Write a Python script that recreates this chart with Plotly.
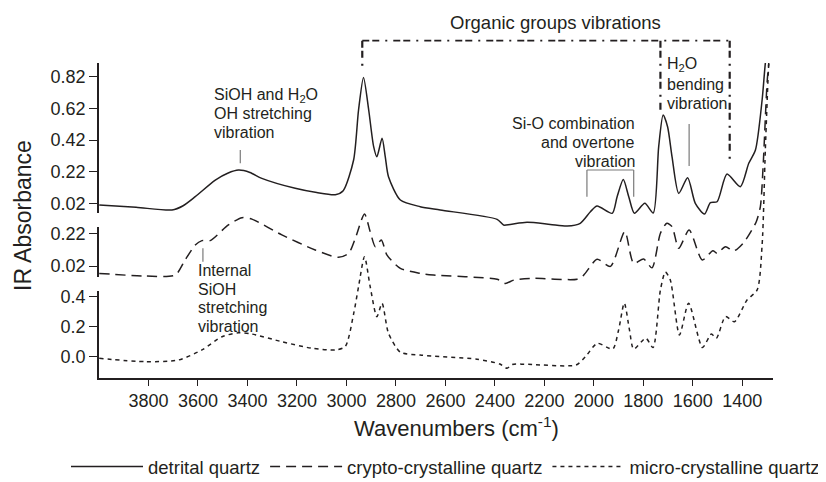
import plotly.graph_objects as go

# ---------------- data ----------------
det_wn = [3999, 3850, 3705, 3660, 3611, 3530, 3480, 3436, 3390, 3342, 3207, 3120, 3045, 3013,
          2971, 2951, 2931, 2910, 2890, 2877, 2856, 2843, 2830, 2782, 2702, 2621, 2391, 2365,
          2338, 2270, 2176, 2108, 2055, 2014, 1987, 1926, 1906, 1881, 1859, 1836, 1794, 1760,
          1738, 1720, 1702, 1684, 1657, 1621, 1590, 1553, 1529, 1502, 1462, 1408, 1374, 1347,
          1320, 1307, 1299]
det_ab = [0.009, -0.005, -0.022, 0.005, 0.062, 0.167, 0.210, 0.230, 0.215, 0.178, 0.115, 0.088,
          0.075, 0.100, 0.294, 0.610, 0.815, 0.610, 0.378, 0.314, 0.431, 0.314, 0.188, 0.041,
          -0.001, -0.022, -0.081, -0.117, -0.113, -0.100, -0.113, -0.123, -0.106, -0.033, 0.003,
          -0.043, 0.062, 0.170, 0.062, -0.043, 0.020, -0.041, 0.378, 0.578, 0.504, 0.314, 0.083,
          0.182, 0.020, -0.048, 0.024, 0.030, 0.205, 0.125, 0.273, 0.357, 0.673, 0.905, 0.990]

cry_wn = [3999, 3813, 3692, 3652, 3611, 3584, 3551, 3477, 3422, 3382, 3261, 3126, 3032, 2991,
          2964, 2927, 2904, 2883, 2859, 2836, 2782, 2702, 2648, 2391, 2358, 2324, 2243, 2068,
          2041, 1987, 1933, 1875, 1839, 1799, 1765, 1731, 1705, 1684, 1657, 1615, 1562, 1519,
          1502, 1468, 1435, 1394, 1344, 1327, 1316, 1300, 1293, 1288]
cry_ab = [-0.025, -0.041, -0.035, 0.057, 0.148, 0.175, 0.175, 0.271, 0.315, 0.306, 0.210, 0.118,
          0.073, 0.098, 0.189, 0.338, 0.230, 0.138, 0.179, 0.087, 0.006, -0.025, -0.035, -0.061,
          -0.086, -0.066, -0.055, -0.060, -0.035, 0.061, 0.018, 0.230, 0.036, 0.063, 0.009,
          0.220, 0.281, 0.260, 0.128, 0.240, 0.057, 0.113, 0.098, 0.138, 0.112, 0.164, 0.289,
          0.383, 0.627, 1.137, 1.260, 1.341]

mic_wn = [3999, 3813, 3679, 3584, 3503, 3436, 3382, 3261, 3139, 3045, 3005, 2971, 2951, 2927,
          2904, 2877, 2856, 2830, 2782, 2702, 2472, 2380, 2351, 2330, 2265, 2072, 2034, 1986,
          1924, 1900, 1877, 1856, 1839, 1790, 1761, 1731, 1711, 1691, 1654, 1617, 1561, 1525,
          1505, 1468, 1432, 1381, 1340, 1320, 1307, 1293, 1288]
mic_ab = [-0.011, -0.033, -0.022, 0.045, 0.133, 0.160, 0.151, 0.100, 0.056, 0.045, 0.067, 0.285,
          0.467, 0.667, 0.467, 0.267, 0.356, 0.156, 0.030, 0.011, -0.017, -0.049, -0.077, -0.052,
          -0.051, -0.055, 0.000, 0.089, 0.051, 0.178, 0.358, 0.178, 0.051, 0.123, 0.061, 0.445,
          0.565, 0.511, 0.145, 0.356, 0.061, 0.151, 0.123, 0.267, 0.233, 0.378, 0.445, 0.745,
          1.378, 1.956, 2.045]

series_names = ["detrital quartz", "crypto-crystalline quartz", "micro-crystalline quartz"]

x_ticks = [3800, 3600, 3400, 3200, 3000, 2800, 2600, 2400, 2200, 2000, 1800, 1600, 1400]
top_ticks = [0.02, 0.22, 0.42, 0.62, 0.82]
mid_ticks = [0.02, 0.22]
bot_ticks = [0.0, 0.2, 0.4]
bot_tick_text = ["0.0", "0.2", "0.4"]

# ---------------- layout helpers ----------------
W, H = 826, 482
OFF = 8                      # the page body adds an 8px margin around the figure
PL, PR, PT, PB = 99, 773, 63, 378   # plot area in screen pixels
ML, MR, MT, MB = PL - OFF, W - (PR - OFF), PT - OFF, H - (PB - OFF)
PW, PH = PR - PL, PB - PT


def py(p):
    """screen pixel row -> paper y"""
    return (PB - p) / PH


def px(p):
    """screen pixel column -> paper x"""
    return (p - PL) / PW


dom_top = [py(213), 1.0]
dom_mid = [py(276.7), py(226.7)]
dom_bot = [0.0, py(291)]
rng_top = [-0.041, 0.907]
rng_mid = [-0.045, 0.260]
rng_bot = [-0.142, 0.438]


def full_range(r, d):
    span = (r[1] - r[0]) / (d[1] - d[0])
    return [r[0] - d[0] * span, r[1] + (1 - d[1]) * span]


FONT = "Liberation Sans, Arial, sans-serif"
INK = "#231f20"
GRAY = "#7a7a7a"

fig = go.Figure()

# empty traces so that the three visible axis segments exist
for ya in ["y", "y2", "y3"]:
    fig.add_trace(go.Scatter(x=[], y=[], yaxis=ya, showlegend=False, hoverinfo="skip"))

fig.add_trace(go.Scatter(x=det_wn, y=det_ab, yaxis="y6", name=series_names[0], mode="lines",
                         line=dict(color=INK, width=1.5, shape="spline", smoothing=0.7)))
fig.add_trace(go.Scatter(x=cry_wn, y=cry_ab, yaxis="y5", name=series_names[1], mode="lines",
                         line=dict(color=INK, width=1.5, dash="10px,6px", shape="spline", smoothing=0.7)))
fig.add_trace(go.Scatter(x=mic_wn, y=mic_ab, yaxis="y4", name=series_names[2], mode="lines",
                         line=dict(color=INK, width=1.5, dash="4px,4px", shape="spline", smoothing=0.7)))

vis_axis = dict(showline=True, linecolor=INK, linewidth=1.6, ticks="outside", ticklen=8,
                tickcolor=INK, tickwidth=1, showgrid=False, zeroline=False, anchor="x",
                automargin=False, tickfont=dict(size=18, color=INK, family=FONT))
hid_axis = dict(visible=False, domain=[0, 1], anchor="x", showgrid=False, zeroline=False)

fig.update_layout(
    width=W, height=H,
    margin=dict(l=ML, r=MR, t=MT, b=MB, autoexpand=False),
    paper_bgcolor="white", plot_bgcolor="rgba(0,0,0,0)",
    font=dict(family=FONT, color=INK, size=16),
    xaxis=dict(range=[4000, 1276], tickvals=x_ticks, showline=True, linecolor=INK, linewidth=1.6,
               ticks="outside", ticklen=6, tickcolor=INK, showgrid=False, zeroline=False,
               anchor="y", automargin=False, tickfont=dict(size=18, color=INK, family=FONT)),
    yaxis=dict(domain=dom_bot, range=rng_bot, tickvals=bot_ticks, ticktext=bot_tick_text, **vis_axis),
    yaxis2=dict(domain=dom_mid, range=rng_mid, tickvals=mid_ticks, tickformat=".2f", **vis_axis),
    yaxis3=dict(domain=dom_top, range=rng_top, tickvals=top_ticks, tickformat=".2f", **vis_axis),
    yaxis4=dict(range=full_range(rng_bot, dom_bot), **hid_axis),
    yaxis5=dict(range=full_range(rng_mid, dom_mid), **hid_axis),
    yaxis6=dict(range=full_range(rng_top, dom_top), **hid_axis),
    showlegend=True,
    legend=dict(orientation="h", x=px(66), xanchor="left",
                y=py(467), yanchor="middle", font=dict(size=18.5, color=INK, family=FONT),
                bgcolor="rgba(0,0,0,0)", itemwidth=72, traceorder="normal"),
)

annos = []


def txt(text, x, ypix, anchor="left", size=16, **kw):
    annos.append(dict(text=text, x=x, xref="x", y=py(ypix), yref="paper", showarrow=False,
                      xanchor=anchor, yanchor="middle", font=dict(size=size, color=INK, family=FONT), **kw))


txt("Organic groups vibrations", 2156, 22, anchor="center", size=18.5)
for t, yp in zip(["SiOH and H<sub>2</sub>O", "OH stretching", "vibration"], [95, 113.5, 132]):
    txt(t, 3544, yp)
for t, yp in zip(["Si-O combination", "and overtone", "vibration"], [123.3, 142, 161]):
    txt(t, 1825, yp, anchor="right")
for t, yp in zip(["H<sub>2</sub>O", "bending", "vibration"], [65, 84.5, 103]):
    txt(t, 1711, yp)
for t, yp in zip(["Internal", "SiOH", "stretching", "vibration"], [270, 289, 307.7, 326]):
    txt(t, 3608, yp)

annos.append(dict(text="Wavenumbers (cm<sup>-1</sup>)", x=2554, xref="x", y=py(427), yref="paper",
                  showarrow=False, xanchor="center", yanchor="middle",
                  font=dict(size=22, color=INK, family=FONT)))
annos.append(dict(text="IR Absorbance", x=px(23), xref="paper", y=py(216),
                  yref="paper", showarrow=False, textangle=-90, xanchor="center", yanchor="middle",
                  font=dict(size=23, color=INK, family=FONT)))

shapes = []
DD = "7px,3px,7px,6px,2px,6px"


def seg(x0, x1, y0p, y1p, color=INK, width=1.8, dash=None):
    s = dict(type="line", xref="x", yref="paper", x0=x0, x1=x1, y0=py(y0p), y1=py(y1p),
             line=dict(color=color, width=width))
    if dash:
        s["line"]["dash"] = dash
    shapes.append(s)


# organic groups bracket
seg(2936, 1451, 40.7, 40.7, dash=DD)
seg(2936, 2936, 40.7, 68.3, width=2.2, dash=DD)
seg(1451, 1451, 40.7, 159.3, width=2.2, dash=DD)
seg(1731, 1731, 40.7, 110, width=2.2, dash=DD)
# pointers
seg(3429, 3429, 150, 163.3, color=GRAY, width=1.2)
seg(1615, 1615, 124, 166, color=GRAY, width=1.2)
seg(3580, 3580, 248.3, 261.7, color=GRAY, width=1.2)
# Si-O bracket
seg(2028, 1839, 170, 170, color=GRAY, width=1.2)
seg(2028, 2028, 170, 196.7, color=GRAY, width=1.2)
seg(1839, 1839, 170, 196.7, color=GRAY, width=1.2)

fig.update_layout(annotations=annos, shapes=shapes)

fig.write_html("out.html")
